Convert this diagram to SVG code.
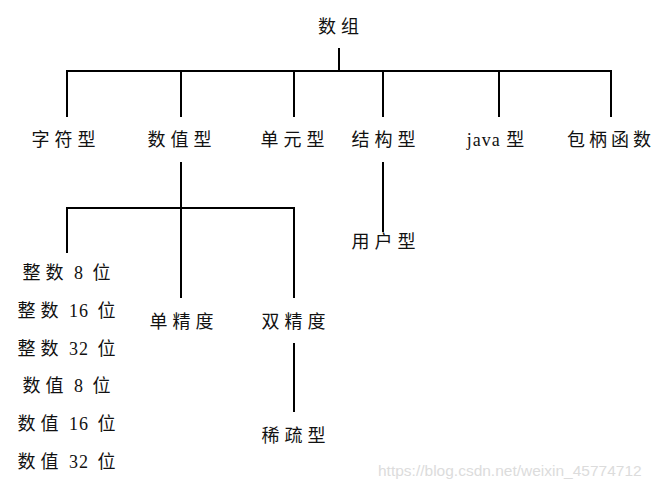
<svg xmlns="http://www.w3.org/2000/svg" width="658" height="489" viewBox="0 0 658 489">
<style>
.t{font-family:"Liberation Serif","Noto Sans CJK SC",serif;font-size:18px;fill:#111;text-anchor:middle;dominant-baseline:central;letter-spacing:5px}
.l{letter-spacing:1px}
.c line{stroke:#000;stroke-width:2}
.wm{font-family:"Liberation Sans",Arial,sans-serif;font-size:15.5px;fill:#dcdcdc}
</style>
<rect width="658" height="489" fill="#fff"/>
<g class="c" id="connectors">
<line x1="339" y1="48" x2="339" y2="71"/>
<line x1="66" y1="71" x2="612" y2="71"/>
<line x1="67" y1="71" x2="67" y2="117"/>
<line x1="181" y1="71" x2="181" y2="117"/>
<line x1="294" y1="71" x2="294" y2="117"/>
<line x1="383" y1="71" x2="383" y2="117"/>
<line x1="499" y1="71" x2="499" y2="117"/>
<line x1="611" y1="71" x2="611" y2="117"/>
<line x1="181" y1="162" x2="181" y2="298"/>
<line x1="66" y1="208" x2="295" y2="208"/>
<line x1="67" y1="208" x2="67" y2="253"/>
<line x1="294" y1="208" x2="294" y2="298"/>
<line x1="294" y1="343" x2="294" y2="412"/>
<line x1="383" y1="162" x2="383" y2="232"/>
</g>
<g id="root"><text class="t" x="341" y="27">数组</text></g>
<g id="n-char"><text class="t" x="66" y="140">字符型</text></g>
<g id="n-num"><text class="t" x="182" y="140">数值型</text></g>
<g id="n-cell"><text class="t" x="295" y="140">单元型</text></g>
<g id="n-struct"><text class="t" x="386" y="140">结构型</text></g>
<g id="n-java"><text class="t" x="498" y="140"><tspan class="l">java </tspan>型</text></g>
<g id="n-handle"><text class="t" x="611" y="140" style="letter-spacing:4px">包柄函数</text></g>
<g id="n-ints">
<text class="t" x="69" y="273">整数<tspan class="l"> 8 </tspan><tspan dx="3">位</tspan></text>
<text class="t" x="69" y="311">整数<tspan class="l"> 16 </tspan><tspan dx="3">位</tspan></text>
<text class="t" x="69" y="349">整数<tspan class="l"> 32 </tspan><tspan dx="3">位</tspan></text>
<text class="t" x="69" y="386">数值<tspan class="l"> 8 </tspan><tspan dx="3">位</tspan></text>
<text class="t" x="69" y="424">数值<tspan class="l"> 16 </tspan><tspan dx="3">位</tspan></text>
<text class="t" x="69" y="462">数值<tspan class="l"> 32 </tspan><tspan dx="3">位</tspan></text>
</g>
<g id="n-single"><text class="t" x="184" y="322">单精度</text></g>
<g id="n-double"><text class="t" x="296" y="322">双精度</text></g>
<g id="n-sparse"><text class="t" x="296" y="436">稀疏型</text></g>
<g id="n-user"><text class="t" x="386" y="242">用户型</text></g>
<text class="wm" x="378" y="476">https://blog.csdn.net/weixin_45774712</text>
</svg>
